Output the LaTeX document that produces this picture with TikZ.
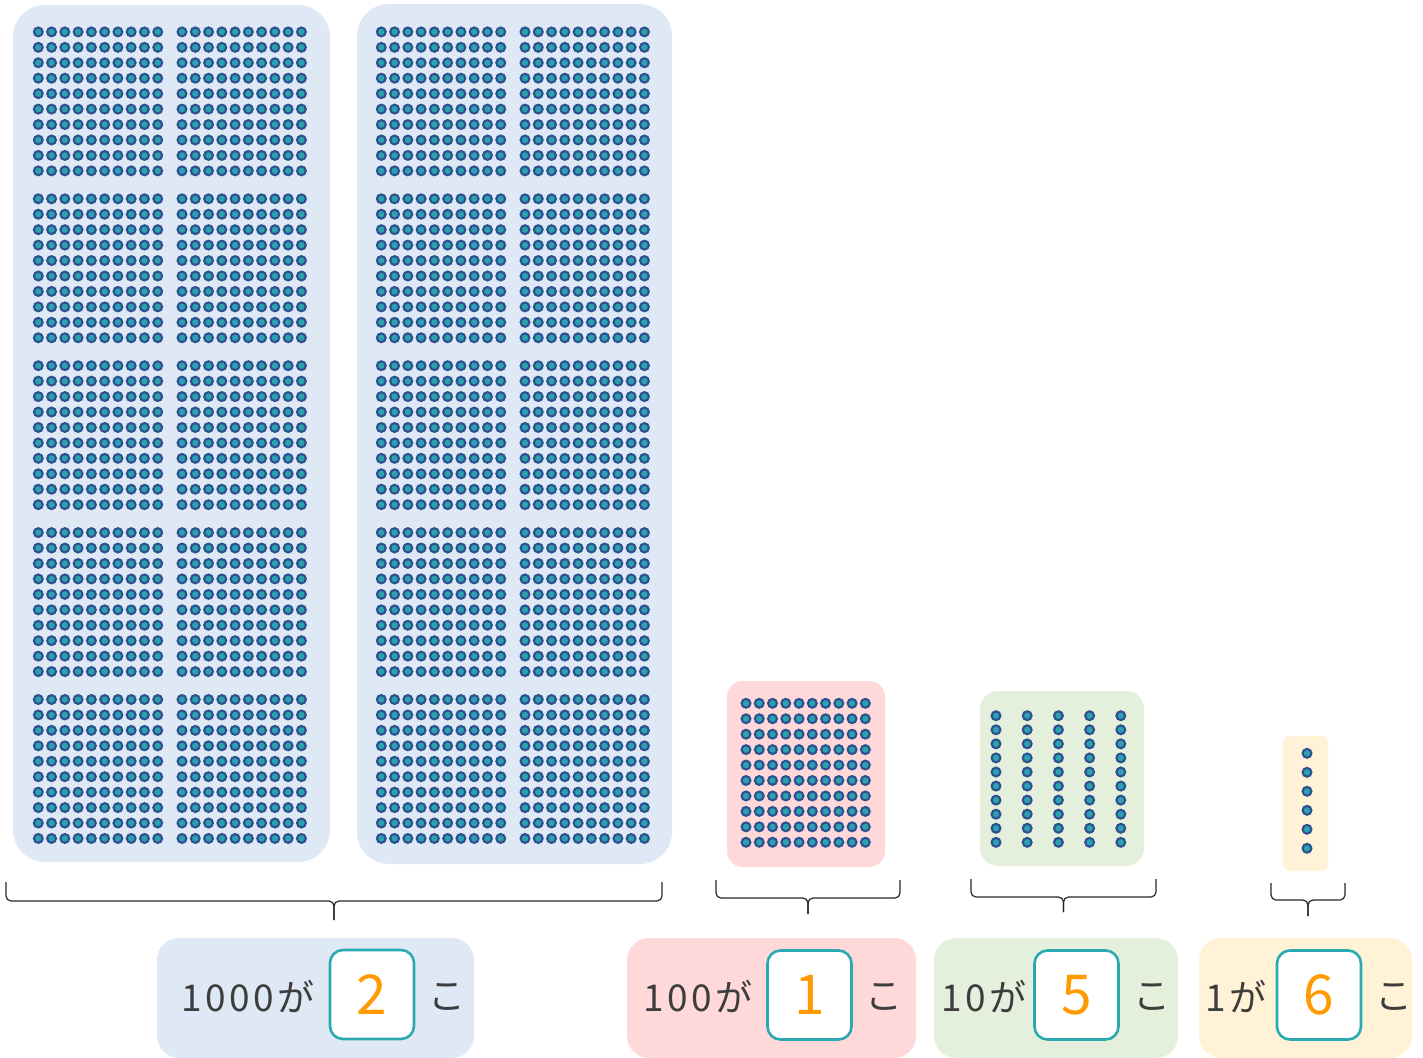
\documentclass[tikz,border=0pt]{standalone}
\usepackage{fontspec}
\newfontfamily\jpfont{Noto Sans CJK JP}
\newfontfamily\jplbl[LetterSpace=10]{Noto Sans CJK JP}
\definecolor{bgblue}{HTML}{DEE9F5}
\definecolor{bgpink}{HTML}{FFD9D9}
\definecolor{bggreen}{HTML}{E5F0DC}
\definecolor{bgyellow}{HTML}{FFF2D6}
\definecolor{dotfill}{HTML}{2BA3AE}
\definecolor{dotedge}{HTML}{2E5090}
\definecolor{tealedge}{HTML}{2AA9B0}
\definecolor{numorange}{HTML}{FF9A00}
\definecolor{txtgray}{HTML}{3D3D3D}
\newcommand\curlybr[5]{%
  \pgfmathsetmacro\brmid{(#1+#2)/2}%
  \draw[bracestyle] (#1,#3) -- (#1,#4) -- (\brmid,#4) -- (\brmid,#5);
  \draw[bracestyle] (#2,#3) -- (#2,#4) -- (\brmid,#4) -- (\brmid,#5);
}
\begin{document}
\begin{tikzpicture}[x=1pt,y=-1pt,
  panel/.style={rounded corners=#1, inner sep=0pt, outer sep=0pt},
  dotc/.style={fill=dotfill, draw=dotedge, line width=2.1pt},
  bracestyle/.style={draw=black!85, line width=1.2pt, rounded corners=5pt},
  numbox/.style={draw=tealedge, line width=2.6pt, fill=white, rounded corners=13pt,
    minimum width=84pt, minimum height=89pt, inner sep=0pt,
    text=numorange, font=\jpfont\fontsize{55}{60}\selectfont},
  lbl/.style={text=txtgray, inner sep=0pt, font=\jplbl\fontsize{37}{40}\selectfont},
]
\useasboundingbox (0,0) rectangle (1423,1057);
% big thousand panels
\node[panel=32pt, fill=bgblue, minimum width=317pt, minimum height=857pt] (th1) at (171.5,433.5) {};
\node[panel=32pt, fill=bgblue, minimum width=315pt, minimum height=860pt] (th2) at (514.5,434) {};
\foreach \gx in {38.3,182,381.3,525}{
  \foreach \gy in {0,...,4}{
    \foreach \i in {0,...,9}{
      \foreach \j in {0,...,9}{
        \fill[dotc] ({\gx+\i*13.27},{31.9+\gy*166.9+\j*15.44}) circle (4.4);
      }
    }
  }
}
% hundred
\node[panel=16pt, fill=bgpink, minimum width=158pt, minimum height=186pt] (hu) at (806,774) {};
\foreach \i in {0,...,9}{
  \foreach \j in {0,...,9}{
    \fill[dotc] ({746+\i*13.26},{703.3+\j*15.44}) circle (4.4);
  }
}
% tens
\node[panel=18pt, fill=bggreen, minimum width=164pt, minimum height=175pt] (te) at (1062,778.5) {};
\foreach \i in {0,...,4}{
  \foreach \j in {0,...,9}{
    \fill[dotc] ({996+\i*31.2},{715.7+\j*14.07}) circle (4.4);
  }
}
% ones
\node[panel=7pt, fill=bgyellow, minimum width=45pt, minimum height=135pt] (on) at (1305.5,803.5) {};
\foreach \j in {0,...,5}{
  \fill[dotc] (1307,{753.3+\j*19}) circle (4.4);
}
% braces
\curlybr{6}{662}{882}{901}{920}
\curlybr{716}{900}{880}{898}{914}
\curlybr{971}{1156}{879}{897}{912}
\curlybr{1271}{1345}{883}{900}{916}
% label panels
\node[panel=22pt, fill=bgblue, minimum width=317pt, minimum height=120pt] (la) at (315.5,998) {};
\node[panel=22pt, fill=bgpink, minimum width=289pt, minimum height=120pt] (lb) at (771.5,998) {};
\node[panel=22pt, fill=bggreen, minimum width=244pt, minimum height=120pt] (lc) at (1056,998) {};
\node[panel=22pt, fill=bgyellow, minimum width=213pt, minimum height=120pt] (ld) at (1305.5,998) {};
% texts
\node[lbl] (ta) at (248,996) {1000が};
\node[numbox] (na) at (372,994.5) {2};
\node[lbl] (ca) at (447,997) {こ};
\node[lbl] (tb) at (698,996) {100が};
\node[numbox] (nb) at (809.5,995) {1};
\node[lbl] (cb) at (884,997) {こ};
\node[lbl] (tc) at (984,996) {10が};
\node[numbox] (nc) at (1076.5,995) {5};
\node[lbl] (cc) at (1152,997) {こ};
\node[lbl] (td) at (1236,996) {1が};
\node[numbox] (nd) at (1319,995) {6};
\node[lbl] (cd) at (1394,997) {こ};
\end{tikzpicture}
\end{document}
